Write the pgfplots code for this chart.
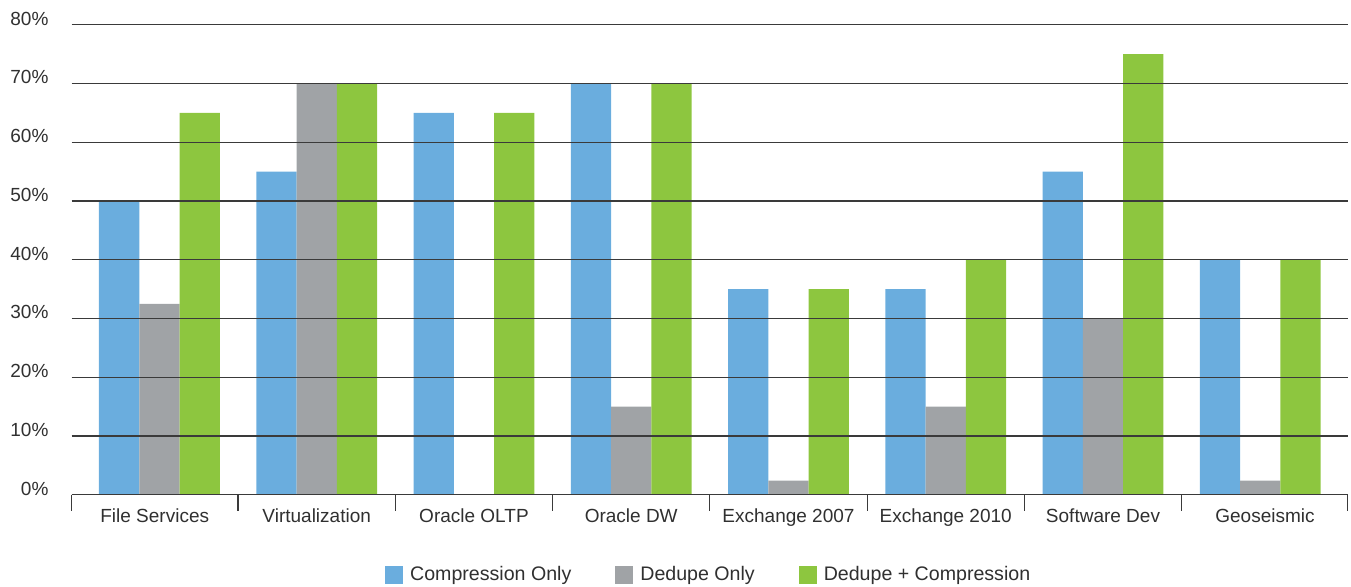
\documentclass[border=0pt]{standalone}
\usepackage{pgfplots}
\pgfplotsset{compat=1.18}
\usepackage{fontspec}
\setmainfont{Liberation Sans}
\definecolor{cblue}{HTML}{6AADDE}
\definecolor{cgray}{HTML}{A0A3A6}
\definecolor{cgreen}{HTML}{8DC63F}
\definecolor{ctext}{HTML}{303030}
\definecolor{cgrid}{HTML}{3A3A3A}
\begin{document}
\fontsize{9.5}{11}\selectfont
\begin{tikzpicture}
\useasboundingbox (-35.85pt,-46pt) rectangle (639.65pt,247.35pt);
\begin{axis}[
  scale only axis,
  width=638pt, height=235pt,
  xmin=-0.558, xmax=7.556, ymin=0, ymax=80,
  axis on top,
  axis x line*=bottom, axis y line*=left,
  y axis line style={draw=none},
  x axis line style={cgrid, line width=0.6pt},
  ytick={0,10,...,80},
  ytick style={draw=none},
  ymajorgrids=true,
  major grid style={cgrid, line width=0.6pt},
  yticklabel={\pgfmathprintnumber{\tick}\%},
  yticklabel style={anchor=east, xshift=-4pt, yshift=3pt, text=ctext},
  /pgf/number format/assume math mode=true,
  xtick={-0.03,1,2,3,4,5,6,7.03},
  xticklabels={File Services,Virtualization,Oracle OLTP,Oracle DW,Exchange 2007,Exchange 2010,Software Dev,Geoseismic},
  major x tick style={draw=none},
  minor xtick={-0.558,0.5,1.5,2.5,3.5,4.5,5.5,6.5,7.556},
  minor tick length=8pt,
  minor x tick style={cgrid, line width=0.6pt},
  tick align=outside,
  xticklabel style={anchor=north, yshift=0.5pt, text=ctext},
  tick label style={font=\fontsize{9.5}{11}\selectfont},
  ybar, bar width=0.2563,
  legend style={at={(0.5,-0.17)}, anchor=center, legend columns=3, draw=none,
    font=\fontsize{9.8}{11}\selectfont, text=ctext,
    /tikz/every odd column/.append style={column sep=1.5pt},
    /tikz/every even column/.append style={column sep=20pt}},
  legend image code/.code={\fill[#1] (0pt,-4.5pt) rectangle (9pt,4.5pt);},
]
\addplot[fill=cblue, draw=none, bar shift=-0.2563] coordinates {(0,50) (1,55) (2,65) (3,70) (4,35) (5,35) (6,55) (7,40)};
\addplot[fill=cgray, draw=none, bar shift=0] coordinates {(0,32.5) (1,70) (2,0) (3,15) (4,2.4) (5,15) (6,30) (7,2.4)};
\addplot[fill=cgreen, draw=none, bar shift=0.2563] coordinates {(0,65) (1,70) (2,65) (3,70) (4,35) (5,40) (6,75) (7,40)};
\legend{Compression Only, Dedupe Only, Dedupe + Compression}
\end{axis}
\end{tikzpicture}
\end{document}
